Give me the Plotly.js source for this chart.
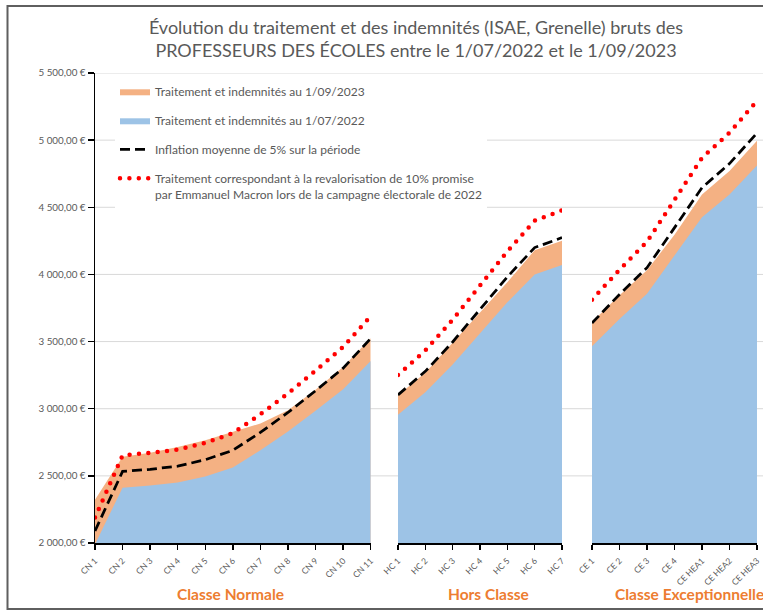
<!DOCTYPE html>
<html>
<head>
<meta charset="utf-8">
<script src="https://cdn.plot.ly/plotly-3.0.1.min.js"></script>
<style>
html, body { margin: 0; padding: 0; background: #fff; }
#chart { width: 763px; height: 610px; }
path.js-line[style*="rgb(255, 0, 0)"] { stroke-linecap: round !important; }
</style>
</head>
<body>
<div id="chart"></div>
<script>
// ---- Data ----
const categoriesCN = ['CN 1','CN 2','CN 3','CN 4','CN 5','CN 6','CN 7','CN 8','CN 9','CN 10','CN 11'];
const categoriesHC = ['HC 1','HC 2','HC 3','HC 4','HC 5','HC 6','HC 7'];
const categoriesCE = ['CE 1','CE 2','CE 3','CE 4','CE HEA1','CE HEA2','CE HEA3'];

const traitement2023CN = [2322, 2642, 2672, 2715, 2765, 2830, 2890, 2988, 3142, 3310, 3525];
const traitement2022CN = [1990, 2412, 2428, 2450, 2495, 2562, 2690, 2830, 2985, 3145, 3355];
const inflationCN      = [2090, 2533, 2549, 2572, 2620, 2690, 2824, 2972, 3134, 3302, 3523];
const promesseCN       = [2189, 2653, 2671, 2695, 2745, 2818, 2959, 3113, 3284, 3460, 3690];

const traitement2023HC = [3100, 3268, 3492, 3717, 3942, 4180, 4250];
const traitement2022HC = [2955, 3122, 3330, 3560, 3792, 4000, 4070];
const inflationHC      = [3103, 3278, 3497, 3738, 3982, 4200, 4274];
const promesseHC       = [3251, 3434, 3663, 3916, 4171, 4400, 4477];

const traitement2023CE = [3645, 3845, 4032, 4295, 4595, 4770, 4995];
const traitement2022CE = [3465, 3668, 3857, 4140, 4425, 4595, 4812];
const inflationCE      = [3638, 3851, 4050, 4347, 4646, 4825, 5053];
const promesseCE       = [3812, 4035, 4243, 4554, 4868, 5055, 5293];

const yTickVals = [2000, 2500, 3000, 3500, 4000, 4500, 5000, 5500];
const yTickText = ['2 000,00 €','2 500,00 €','3 000,00 €','3 500,00 €','4 000,00 €','4 500,00 €','5 000,00 €','5 500,00 €'];

const seriesNames = [
  'Traitement et indemnités au 1/09/2023',
  'Traitement et indemnités au 1/07/2022',
  'Inflation moyenne de 5% sur la période',
  'Traitement correspondant à la revalorisation de 10% promise<br>par Emmanuel Macron lors de la campagne électorale de 2022'
];
const groupLabels = ['Classe Normale', 'Hors Classe', 'Classe Exceptionnelle'];

// ---- Styles ----
const FONT = 'Lato, "Open Sans", sans-serif';
const GRAY = '#595959';
const ORANGE_FILL = '#F4B183';
const BLUE_FILL = '#9DC3E6';
const ORANGE_TEXT = '#ED7D31';

const groups = [
  {cats: categoriesCN, v23: traitement2023CN, v22: traitement2022CN, inf: inflationCN, pro: promesseCN, xa: 'x'},
  {cats: categoriesHC, v23: traitement2023HC, v22: traitement2022HC, inf: inflationHC, pro: promesseHC, xa: 'x2'},
  {cats: categoriesCE, v23: traitement2023CE, v22: traitement2022CE, inf: inflationCE, pro: promesseCE, xa: 'x3'}
];

const traces = [];
groups.forEach((g, i) => {
  const show = i === 0;
  traces.push({x: g.cats, y: g.v23, xaxis: g.xa, yaxis: 'y', type: 'scatter', mode: 'lines',
    fill: 'tozeroy', fillcolor: ORANGE_FILL, line: {width: 0, color: ORANGE_FILL},
    name: seriesNames[0], legendgroup: 'a', showlegend: show, hoverinfo: 'skip'});
  traces.push({x: g.cats, y: g.v22, xaxis: g.xa, yaxis: 'y', type: 'scatter', mode: 'lines',
    fill: 'tozeroy', fillcolor: BLUE_FILL, line: {width: 0, color: BLUE_FILL},
    name: seriesNames[1], legendgroup: 'b', showlegend: show, hoverinfo: 'skip'});
  traces.push({x: g.cats, y: g.inf, xaxis: g.xa, yaxis: 'y', type: 'scatter', mode: 'lines',
    line: {width: 2.75, color: '#000000', dash: '10px,5px'},
    name: seriesNames[2], legendgroup: 'c', showlegend: show, hoverinfo: 'skip'});
  traces.push({x: g.cats, y: g.pro, xaxis: g.xa, yaxis: 'y', type: 'scatter', mode: 'lines',
    line: {width: 4.5, color: '#ff0000', dash: '0px,9.4px'},
    name: seriesNames[3], legendgroup: 'd', showlegend: show, hoverinfo: 'skip'});
});

// Geometry helpers (pixel -> paper)
const L = 95, R = 6, T = 73, B = 67, W = 763, H = 610;
const PW = W - L - R, PH = H - T - B;
const px = v => (v - L) / PW;
const py = v => (H - B - v) / PH;

function xAxis(cats, domain) {
  return {
    type: 'category', domain: domain, anchor: 'y',
    range: [0, cats.length - 1], autorange: false,
    showline: true, linecolor: '#000', linewidth: 1.5,
    ticks: 'outside', ticklen: 5, tickwidth: 1.3, tickcolor: '#000',
    tickangle: -45, tickfont: {family: FONT, size: 8.5, color: GRAY},
    ticklabelstandoff: 3,
    showgrid: false, zeroline: false, fixedrange: true
  };
}

const shapes = [];
yTickVals.forEach(v => {
  if (v === yTickVals[0]) return;
  shapes.push({type: 'line', layer: 'below', xref: 'paper', yref: 'y',
    x0: 0, x1: 1.02, y0: v, y1: v, line: {color: '#d9d9d9', width: 1}});
});
// chart frame
shapes.push({type: 'rect', layer: 'above', xref: 'paper', yref: 'paper',
  x0: px(7.5), x1: 1.2, y0: py(609), y1: py(6), line: {color: '#5f5f5f', width: 2}});

const layout = {
  width: W, height: H,
  margin: {l: L, r: R, t: T, b: B, pad: 0},
  paper_bgcolor: '#fff', plot_bgcolor: 'rgba(0,0,0,0)',
  font: {family: FONT, color: GRAY},
  title: {
    text: 'Évolution du traitement et des indemnités (ISAE, Grenelle) bruts des<br>PROFESSEURS DES ÉCOLES entre le 1/07/2022 et le 1/09/2023',
    font: {family: FONT, size: 18, color: GRAY},
    xref: 'container', x: 416 / W, xanchor: 'center',
    yref: 'container', y: 1 - 34 / H, yanchor: 'top'
  },
  xaxis: xAxis(categoriesCN, [0, px(370.7)]),
  xaxis2: xAxis(categoriesHC, [px(398), px(562)]),
  xaxis3: xAxis(categoriesCE, [px(592), 1]),
  yaxis: {
    range: [yTickVals[0], yTickVals[yTickVals.length - 1]], autorange: false,
    tickvals: yTickVals, ticktext: yTickText,
    tickfont: {family: FONT, size: 9.8, color: GRAY},
    ticks: 'outside', ticklen: 6, tickwidth: 1.3, tickcolor: '#000',
    showline: true, linecolor: '#000', linewidth: 1.5,
    showgrid: false, zeroline: false, fixedrange: true
  },
  showlegend: true,
  legend: {
    x: px(115), xanchor: 'left', y: py(77), yanchor: 'top',
    bgcolor: '#ffffff', borderwidth: 0,
    font: {family: FONT, size: 12, color: GRAY},
    tracegroupgap: 10, valign: 'top', itemwidth: 30
  },
  shapes: shapes,
  annotations: [
    {text: '<b>' + groupLabels[0] + '</b>', xref: 'paper', yref: 'paper', x: px(230), y: py(594),
      xanchor: 'center', yanchor: 'middle', showarrow: false, font: {family: FONT, size: 15.5, color: ORANGE_TEXT}},
    {text: '<b>' + groupLabels[1] + '</b>', xref: 'paper', yref: 'paper', x: px(488), y: py(594),
      xanchor: 'center', yanchor: 'middle', showarrow: false, font: {family: FONT, size: 15.5, color: ORANGE_TEXT}},
    {text: '<b>' + groupLabels[2] + '</b>', xref: 'paper', yref: 'paper', x: px(613), y: py(594),
      xanchor: 'left', yanchor: 'middle', showarrow: false, font: {family: FONT, size: 15.5, color: ORANGE_TEXT}}
  ]
};

Plotly.newPlot('chart', traces, layout, {staticPlot: true, displayModeBar: false});
</script>
</body>
</html>
